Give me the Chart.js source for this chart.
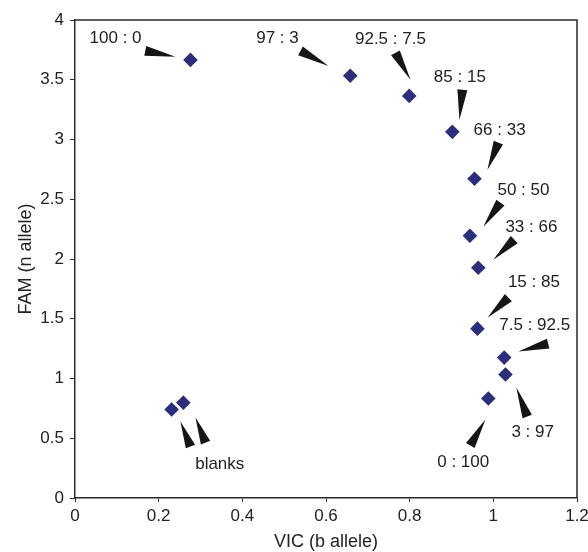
<!DOCTYPE html>
<html>
<head>
<meta charset="utf-8">
<script src="https://cdn.jsdelivr.net/npm/chart.js@4/dist/chart.umd.min.js"></script>
<style>html,body{margin:0;padding:0;background:#fff}canvas{display:block}</style>
</head>
<body>
<canvas id="c" width="588" height="552"></canvas>
<script>
// Measured points (VIC = b allele, FAM = n allele)
const vicValues = [0.276, 0.658, 0.799, 0.902, 0.955, 0.944, 0.964, 0.962, 1.026, 1.029, 0.988, 0.231, 0.259];
const famValues = [3.666, 3.533, 3.365, 3.064, 2.672, 2.195, 1.927, 1.417, 1.175, 1.033, 0.833, 0.740, 0.798];

// Callout labels (text, label anchor in data units)
const labelTexts = ["100 : 0", "97 : 3", "92.5 : 7.5", "85 : 15", "66 : 33", "50 : 50", "33 : 66", "15 : 85", "7.5 : 92.5", "3 : 97", "0 : 100", "blanks"];
const labelX = [0.097, 0.484, 0.754, 0.920, 1.015, 1.072, 1.091, 1.097, 1.099, 1.094, 0.928, 0.346];
const labelY = [3.847, 3.847, 3.842, 3.524, 3.081, 2.571, 2.266, 1.802, 1.447, 0.552, 0.301, 0.280];

// Wedge pointers (base near label -> tip near point), data units
const wedgeBaseX = [0.168, 0.539, 0.766, 0.926, 1.012, 1.017, 1.050, 1.036, 1.131, 1.081, 0.945, 0.276, 0.312];
const wedgeBaseY = [3.742, 3.742, 3.725, 3.416, 2.973, 2.471, 2.162, 1.677, 1.292, 0.681, 0.439, 0.431, 0.464];
const wedgeTipX  = [0.240, 0.606, 0.802, 0.919, 0.986, 0.976, 1.000, 0.986, 1.060, 1.055, 0.981, 0.252, 0.288];
const wedgeTipY  = [3.692, 3.616, 3.499, 3.165, 2.747, 2.270, 1.994, 1.509, 1.225, 0.924, 0.656, 0.640, 0.673];

const xTicks = [0, 0.2, 0.4, 0.6, 0.8, 1, 1.2];
const yTicks = [0, 0.5, 1, 1.5, 2, 2.5, 3, 3.5, 4];

const FONT = "'Liberation Sans', Arial, Helvetica, sans-serif";
const AXIS_COLOR = '#2a2a2a';

const points = vicValues.map((v, i) => ({x: v, y: famValues[i]}));

const calloutPlugin = {
  id: 'callouts',
  afterDatasetsDraw(chart) {
    const {ctx, chartArea, scales} = chart;
    const xs = scales.x, ys = scales.y;
    ctx.save();
    // frame top & right
    ctx.strokeStyle = AXIS_COLOR;
    ctx.lineWidth = 1.5;
    ctx.beginPath();
    ctx.moveTo(chartArea.left, chartArea.top);
    ctx.lineTo(chartArea.right, chartArea.top);
    ctx.lineTo(chartArea.right, chartArea.bottom);
    ctx.stroke();
    // wedges
    ctx.fillStyle = '#151515';
    for (let i = 0; i < wedgeBaseX.length; i++) {
      const bx = xs.getPixelForValue(wedgeBaseX[i]);
      const by = ys.getPixelForValue(wedgeBaseY[i]);
      const tx = xs.getPixelForValue(wedgeTipX[i]);
      const ty = ys.getPixelForValue(wedgeTipY[i]);
      const dx = tx - bx, dy = ty - by;
      const len = Math.hypot(dx, dy) || 1;
      const nx = -dy / len, ny = dx / len;
      const hw = 5;
      ctx.beginPath();
      ctx.moveTo(bx + nx * hw, by + ny * hw);
      ctx.lineTo(tx, ty);
      ctx.lineTo(bx - nx * hw, by - ny * hw);
      ctx.closePath();
      ctx.fill();
    }
    // labels
    ctx.fillStyle = '#222';
    ctx.font = '17px ' + FONT;
    ctx.textAlign = 'center';
    ctx.textBaseline = 'middle';
    for (let i = 0; i < labelTexts.length; i++) {
      ctx.fillText(labelTexts[i], xs.getPixelForValue(labelX[i]), ys.getPixelForValue(labelY[i]));
    }
    ctx.restore();
  }
};

new Chart(document.getElementById('c'), {
  type: 'scatter',
  data: {
    datasets: [{
      data: points,
      pointStyle: 'rectRot',
      pointRadius: 7.3,
      pointHoverRadius: 7.3,
      backgroundColor: '#2b2e7a',
      borderColor: '#2b2e7a',
      pointBorderWidth: 0
    }]
  },
  options: {
    responsive: false,
    animation: false,
    devicePixelRatio: 1,
    layout: {padding: {top: 20, right: 11, left: 0, bottom: 0}},
    plugins: {legend: {display: false}, tooltip: {enabled: false}},
    scales: {
      x: {
        type: 'linear',
        min: 0, max: 1.2,
        afterBuildTicks(scale) { scale.ticks = xTicks.map(v => ({value: v})); },
        afterFit(scale) { scale.height = 54; scale.paddingLeft = 0; scale.paddingRight = 0; },
        border: {display: true, color: AXIS_COLOR, width: 1.5},
        grid: {display: true, drawOnChartArea: false, drawTicks: true, tickLength: 4, color: AXIS_COLOR, lineWidth: 1},
        ticks: {color: '#222', font: {family: FONT, size: 17}, padding: 4, maxRotation: 0, autoSkip: false,
                callback: v => String(v)},
        title: {display: true, text: 'VIC (b allele)', color: '#222', font: {family: FONT, size: 18, lineHeight: 1}, padding: {top: 0, bottom: 1}}
      },
      y: {
        type: 'linear',
        min: 0, max: 4,
        afterBuildTicks(scale) { scale.ticks = yTicks.map(v => ({value: v})); },
        afterFit(scale) { scale.width = 75; scale.paddingTop = 0; scale.paddingBottom = 0; },
        border: {display: true, color: AXIS_COLOR, width: 1.5},
        grid: {display: true, drawOnChartArea: false, drawTicks: true, tickLength: 5, color: AXIS_COLOR, lineWidth: 1},
        ticks: {color: '#222', font: {family: FONT, size: 17}, padding: 6, autoSkip: false,
                callback: v => String(v)},
        title: {display: true, text: 'FAM (n allele)', color: '#222', font: {family: FONT, size: 18}, padding: {top: 15, bottom: 0}}
      }
    }
  },
  plugins: [calloutPlugin]
});
</script>
</body>
</html>
